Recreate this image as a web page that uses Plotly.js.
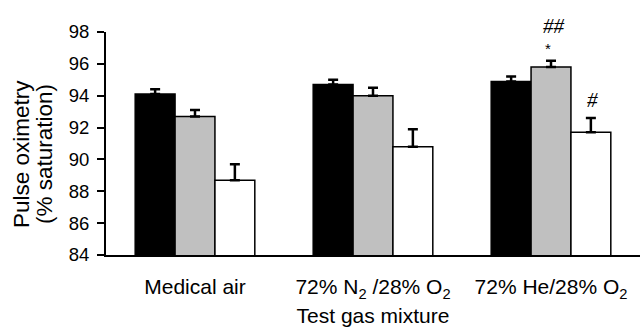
<!DOCTYPE html>
<html>
<head>
<meta charset="utf-8">
<script src="https://cdn.plot.ly/plotly-3.0.1.min.js"></script>
<style>html,body{margin:0;padding:0;background:#fff;}#chart{width:640px;height:333px;}</style>
</head>
<body>
<div id="chart"></div>
<script>
const categories = ["Medical air", "72% N<sub>2</sub> /28% O<sub>2</sub>", "72% He/28% O<sub>2</sub>"];
const seriesNames = ["Series A", "Series B", "Series C"];
const seriesA = [94.1, 94.7, 94.9];
const seriesAErr = [0.3, 0.3, 0.3];
const seriesB = [92.7, 94.0, 95.8];
const seriesBErr = [0.4, 0.5, 0.4];
const seriesC = [88.7, 90.8, 91.7];
const seriesCErr = [1.0, 1.1, 0.9];
const yTicks = [84, 86, 88, 90, 92, 94, 96, 98];
const yTitleLines = ["Pulse oximetry", "(% saturation)"];
const xTitle = "Test gas mixture";
const colors = ["#000000", "#c0c0c0", "#ffffff"];

const xs = categories.map((c, i) => i);
const means = [seriesA, seriesB, seriesC];
const errs = [seriesAErr, seriesBErr, seriesCErr];
const bargap = 0.328;
const barW = (1 - bargap) / 3;

const traces = means.map((m, k) => ({
  type: 'bar',
  name: seriesNames[k],
  x: xs,
  y: m,
  base: 0,
  marker: {color: colors[k], line: {color: '#000', width: 1.5}},
  error_y: {type: 'data', symmetric: false, array: errs[k], arrayminus: errs[k].map(() => 0),
            color: '#000', thickness: 2.5, width: 5},
  showlegend: false,
  hoverinfo: 'skip'
}));

const fam = 'Liberation Sans, Arial, Helvetica, sans-serif';
const labelFont = {family: fam, size: 21, color: '#000'};
const tickFont = {family: fam, size: 18.5, color: '#000'};
const yTitleFont = {family: fam, size: 22.5, color: '#000'};
const markFont = {family: 'Liberation Serif, Times New Roman, serif', size: 21, color: '#000'};

const annotations = [
  {x: 2, y: seriesB[2] + seriesBErr[2], text: '*', font: {family: fam, size: 15, color: '#000'},
   yshift: 12, yanchor: 'middle', xshift: -3},
  {x: 2, y: seriesB[2] + seriesBErr[2], text: '<i>##</i>', font: markFont, yshift: 35, yanchor: 'middle', xshift: 3},
  {x: 2 + barW, y: seriesC[2] + seriesCErr[2], text: '<i>#</i>', font: markFont, yshift: 18, yanchor: 'middle', xshift: 2}
].map(a => Object.assign({xref: 'x', yref: 'y', showarrow: false, xanchor: 'center'}, a));

yTitleLines.forEach((t, i) => annotations.push({
  xref: 'paper', yref: 'paper', x: 0, y: 0.453, xanchor: 'center', yanchor: 'middle',
  xshift: i === 0 ? -84 : -61, text: t, textangle: -90, showarrow: false, font: yTitleFont
}));

const layout = {
  width: 640, height: 333,
  margin: {l: 106, r: 0, t: 32, b: 78},
  paper_bgcolor: '#fff', plot_bgcolor: '#fff',
  font: labelFont,
  barmode: 'group', bargap: bargap, bargroupgap: 0,
  xaxis: {
    range: [-0.5, 2.5], tickvals: xs, ticktext: categories,
    showline: true, linecolor: '#000', linewidth: 2, ticks: '', showgrid: false, zeroline: false,
    tickfont: labelFont, ticklabelstandoff: 12,
    title: {text: xTitle, font: labelFont, standoff: 8}
  },
  yaxis: {
    range: [84, 98], tickvals: yTicks, showline: true, linecolor: '#000', linewidth: 2,
    ticks: 'outside', ticklen: 7, tickwidth: 2, tickcolor: '#000', showgrid: false, zeroline: false,
    tickfont: tickFont, ticklabelstandoff: 4
  },
  annotations: annotations
};

Plotly.newPlot('chart', traces, layout, {staticPlot: true, displayModeBar: false});
</script>
</body>
</html>
